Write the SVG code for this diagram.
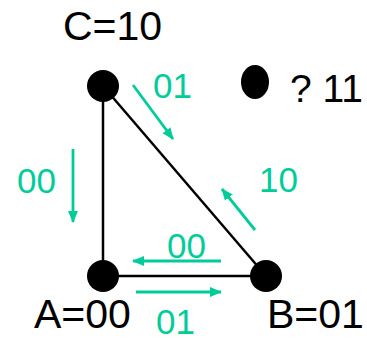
<svg xmlns="http://www.w3.org/2000/svg" width="367" height="339" viewBox="0 0 367 339">
<style>
.lbl{font-family:"Liberation Sans",Arial,sans-serif;font-size:41px;fill:#000}
.g{font-family:"Liberation Sans",Arial,sans-serif;font-size:35px;fill:#00cc99}
.edge{stroke:#000;stroke-width:2.5;fill:none}
.arr{stroke:#00cc99;stroke-width:2.8;fill:none;marker-end:url(#ah)}
.node{fill:#000}
</style>
<defs>
<marker id="ah" markerUnits="userSpaceOnUse" markerWidth="12" markerHeight="12" viewBox="0 0 12 12" refX="11" refY="6" orient="auto">
<path d="M0,1 L12,6 L0,11 Z" fill="#00cc99"/>
</marker>
</defs>
<rect width="367" height="339" fill="#fff"/>
<g id="connectors">
<line class="edge" x1="103" y1="86" x2="103" y2="276"/>
<line class="edge" x1="103" y1="276" x2="266" y2="276"/>
<line class="edge" x1="103" y1="86" x2="266" y2="276"/>
<line class="arr" x1="133" y1="85" x2="173" y2="139"/>
<line class="arr" x1="73" y1="149" x2="73" y2="222"/>
<line class="arr" x1="255" y1="230" x2="222" y2="189"/>
<line class="arr" x1="221" y1="261" x2="133" y2="261"/>
<line class="arr" x1="136" y1="292" x2="221" y2="292"/>
<text class="g" x="153" y="98">01</text>
<text class="g" x="17" y="193">00</text>
<text class="g" x="259" y="192">10</text>
<text class="g" x="167" y="258">00</text>
<text class="g" x="156" y="334">01</text>
</g>
<g id="C">
<circle class="node" cx="103" cy="86" r="16"/>
<text class="lbl" x="63" y="40">C=10</text>
</g>
<g id="A">
<circle class="node" cx="103" cy="276" r="16"/>
<text class="lbl" x="34" y="328">A=00</text>
</g>
<g id="B">
<circle class="node" cx="266" cy="276" r="16"/>
<text class="lbl" x="267" y="328">B=01</text>
</g>
<g id="D">
<ellipse class="node" cx="255" cy="82" rx="14" ry="17"/>
<text class="lbl" x="290" y="102" style="font-size:39px">? 11</text>
</g>
</svg>
